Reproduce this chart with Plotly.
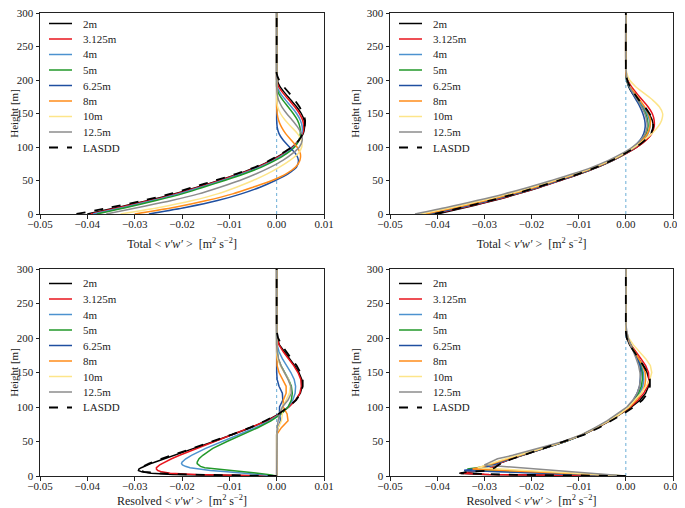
import plotly.graph_objects as go

LABELS = ["2m", "3.125m", "4m", "5m", "6.25m", "8m", "10m", "12.5m", "LASDD"]
COLORS = ["#000000", "#e8141c", "#4c92cf", "#22982a", "#1f4fa0", "#ff8c1a", "#fde58a", "#8c8c8c", "#000000"]

X_TICKS = [-0.05, -0.04, -0.03, -0.02, -0.01, 0.0, 0.01]
Y_TICKS = [0, 50, 100, 150, 200, 250, 300]

# ---------------- Total <v'w'> heights ----------------
H_TOTAL = [0, 10, 20, 30, 40, 50, 60, 70, 80, 90, 100, 110, 120, 130, 140, 150, 160, 170, 180, 190, 200, 210, 220, 300]

# Panel 1 (top-left): Total
tl_2m = [-0.0400, -0.0335, -0.0272, -0.0217, -0.0168, -0.0122, -0.0080, -0.0042, -0.0012, 0.0013, 0.0033, 0.0047, 0.0056, 0.0059, 0.0058, 0.0052, 0.0042, 0.0030, 0.0018, 0.0007, 0.0001, 0.0, 0.0, 0.0]
tl_3125 = [-0.0393, -0.0330, -0.0268, -0.0213, -0.0165, -0.0120, -0.0078, -0.0040, -0.0010, 0.0015, 0.0034, 0.0047, 0.0055, 0.0057, 0.0055, 0.0048, 0.0038, 0.0026, 0.0014, 0.0004, 0.0, 0.0, 0.0, 0.0]
tl_4 = [-0.0388, -0.0322, -0.0262, -0.0207, -0.0160, -0.0115, -0.0073, -0.0036, -0.0006, 0.0018, 0.0036, 0.0047, 0.0053, 0.0054, 0.0050, 0.0042, 0.0031, 0.0019, 0.0008, 0.0001, 0.0, 0.0, 0.0, 0.0]
tl_5 = [-0.0380, -0.0315, -0.0255, -0.0200, -0.0155, -0.0110, -0.0068, -0.0032, -0.0003, 0.0021, 0.0038, 0.0047, 0.0050, 0.0049, 0.0044, 0.0035, 0.0024, 0.0013, 0.0004, 0.0, 0.0, 0.0, 0.0, 0.0]
tl_625 = [-0.0270, -0.0190, -0.0125, -0.0075, -0.0035, -0.0003, 0.0024, 0.0042, 0.0046, 0.0040, 0.0027, 0.0014, 0.0005, 0.0001, 0.0, 0.0, 0.0, 0.0, 0.0, 0.0, 0.0, 0.0, 0.0, 0.0]
tl_8 = [-0.0300, -0.0215, -0.0148, -0.0093, -0.0050, -0.0010, 0.0020, 0.0040, 0.0049, 0.0050, 0.0043, 0.0031, 0.0019, 0.0010, 0.0004, 0.0001, 0.0, 0.0, 0.0, 0.0, 0.0, 0.0, 0.0, 0.0]
tl_10 = [-0.0330, -0.0245, -0.0178, -0.0125, -0.0085, -0.0050, -0.0020, 0.0006, 0.0028, 0.0045, 0.0053, 0.0052, 0.0044, 0.0031, 0.0018, 0.0008, 0.0002, 0.0, 0.0, 0.0, 0.0, 0.0, 0.0, 0.0]
tl_125 = [-0.0360, -0.0290, -0.0222, -0.0165, -0.0120, -0.0078, -0.0043, -0.0013, 0.0013, 0.0033, 0.0048, 0.0054, 0.0052, 0.0044, 0.0033, 0.0021, 0.0011, 0.0004, 0.0001, 0.0, 0.0, 0.0, 0.0, 0.0]
tl_lasdd = [-0.0423, -0.0350, -0.0282, -0.0225, -0.0177, -0.0130, -0.0085, -0.0045, -0.0015, 0.0010, 0.0032, 0.0047, 0.0055, 0.0059, 0.0060, 0.0056, 0.0048, 0.0038, 0.0027, 0.0015, 0.0005, 0.0, 0.0, 0.0]

# Panel 2 (top-right): Total
tr_2m = [-0.0400, -0.0338, -0.0280, -0.0229, -0.0182, -0.0139, -0.0097, -0.0059, -0.0027, 0.0000, 0.0024, 0.0042, 0.0054, 0.0058, 0.0056, 0.0048, 0.0037, 0.0025, 0.0014, 0.0006, 0.0002, 0.0, 0.0, 0.0]
tr_3125 = [-0.0410, -0.0343, -0.0283, -0.0231, -0.0184, -0.0140, -0.0098, -0.0060, -0.0028, 0.0000, 0.0024, 0.0043, 0.0055, 0.0060, 0.0060, 0.0056, 0.0047, 0.0035, 0.0023, 0.0012, 0.0004, 0.0001, 0.0, 0.0]
tr_4 = [-0.0418, -0.0350, -0.0290, -0.0236, -0.0188, -0.0143, -0.0100, -0.0062, -0.0029, -0.0002, 0.0020, 0.0037, 0.0047, 0.0051, 0.0050, 0.0045, 0.0037, 0.0027, 0.0017, 0.0008, 0.0003, 0.0001, 0.0, 0.0]
tr_5 = [-0.0420, -0.0352, -0.0292, -0.0238, -0.0190, -0.0145, -0.0101, -0.0062, -0.0030, -0.0003, 0.0018, 0.0034, 0.0043, 0.0047, 0.0046, 0.0042, 0.0034, 0.0025, 0.0015, 0.0007, 0.0002, 0.0, 0.0, 0.0]
tr_625 = [-0.0415, -0.0348, -0.0288, -0.0235, -0.0187, -0.0143, -0.0100, -0.0062, -0.0030, -0.0004, 0.0016, 0.0030, 0.0038, 0.0041, 0.0040, 0.0036, 0.0030, 0.0022, 0.0014, 0.0007, 0.0002, 0.0, 0.0, 0.0]
tr_8 = [-0.0425, -0.0357, -0.0296, -0.0241, -0.0192, -0.0147, -0.0103, -0.0064, -0.0031, -0.0004, 0.0018, 0.0035, 0.0046, 0.0051, 0.0052, 0.0048, 0.0040, 0.0030, 0.0019, 0.0009, 0.0003, 0.0, 0.0, 0.0]
tr_10 = [-0.0435, -0.0367, -0.0305, -0.0249, -0.0199, -0.0152, -0.0107, -0.0067, -0.0033, -0.0005, 0.0018, 0.0038, 0.0055, 0.0068, 0.0076, 0.0078, 0.0071, 0.0057, 0.0039, 0.0021, 0.0008, 0.0002, 0.0, 0.0]
tr_125 = [-0.0447, -0.0378, -0.0316, -0.0258, -0.0206, -0.0158, -0.0112, -0.0071, -0.0037, -0.0009, 0.0014, 0.0031, 0.0041, 0.0045, 0.0044, 0.0040, 0.0033, 0.0025, 0.0016, 0.0008, 0.0003, 0.0001, 0.0, 0.0]
tr_lasdd = [-0.0405, -0.0345, -0.0288, -0.0235, -0.0188, -0.0143, -0.0100, -0.0062, -0.0030, -0.0003, 0.0022, 0.0040, 0.0053, 0.0058, 0.0057, 0.0050, 0.0040, 0.0028, 0.0018, 0.0009, 0.0003, 0.0, 0.0, 0.0]

# ---------------- Resolved <v'w'> heights ----------------
H_RES = [0, 2, 4, 6, 8, 10, 12, 14, 16, 18, 20, 25, 30, 40, 50, 60, 70, 80, 90, 100, 110, 120, 130, 140, 150, 160, 170, 180, 190, 200, 210, 220, 300]

# Panel 3 (bottom-left): Resolved
bl_2m = [0.0, -0.0220, -0.0265, -0.0285, -0.0292, -0.0291, -0.0286, -0.0280, -0.0273, -0.0266, -0.0258, -0.0238, -0.0217, -0.0175, -0.0133, -0.0093, -0.0055, -0.0022, 0.0005, 0.0025, 0.0040, 0.0050, 0.0054, 0.0053, 0.0047, 0.0038, 0.0027, 0.0016, 0.0006, 0.0001, 0.0, 0.0, 0.0]
bl_3125 = [0.0, -0.0170, -0.0225, -0.0243, -0.0251, -0.0254, -0.0254, -0.0251, -0.0247, -0.0242, -0.0237, -0.0222, -0.0205, -0.0168, -0.0128, -0.0090, -0.0053, -0.0020, 0.0007, 0.0026, 0.0040, 0.0049, 0.0052, 0.0051, 0.0045, 0.0036, 0.0025, 0.0014, 0.0005, 0.0001, 0.0, 0.0, 0.0]
bl_4 = [0.0, -0.0030, -0.0070, -0.0105, -0.0140, -0.0165, -0.0183, -0.0193, -0.0199, -0.0201, -0.0200, -0.0192, -0.0180, -0.0150, -0.0115, -0.0080, -0.0045, -0.0015, 0.0008, 0.0024, 0.0034, 0.0039, 0.0040, 0.0037, 0.0030, 0.0021, 0.0012, 0.0005, 0.0001, 0.0, 0.0, 0.0, 0.0]
bl_5 = [0.0, -0.0015, -0.0040, -0.0070, -0.0105, -0.0135, -0.0152, -0.0161, -0.0166, -0.0168, -0.0168, -0.0164, -0.0156, -0.0135, -0.0105, -0.0073, -0.0040, -0.0012, 0.0010, 0.0024, 0.0031, 0.0033, 0.0031, 0.0025, 0.0017, 0.0009, 0.0003, 0.0001, 0.0, 0.0, 0.0, 0.0, 0.0]
bl_625 = [0.0, 0.0, 0.0, 0.0, 0.0, 0.0, 0.0, 0.0, 0.0, 0.0, 0.0, 0.0, 0.0, 0.0, 0.0, 0.0, 0.0003, 0.0008, 0.0006, 0.0006, 0.0013, 0.0012, 0.0005, 0.0001, 0.0, 0.0, 0.0, 0.0, 0.0, 0.0, 0.0, 0.0, 0.0]
bl_8 = [0.0, 0.0, 0.0, 0.0, 0.0, 0.0, 0.0, 0.0, 0.0, 0.0, 0.0, 0.0, 0.0, 0.0, 0.0, 0.0, 0.0010, 0.0024, 0.0022, 0.0014, 0.0014, 0.0020, 0.0020, 0.0013, 0.0005, 0.0001, 0.0, 0.0, 0.0, 0.0, 0.0, 0.0, 0.0]
bl_10 = [0.0, 0.0, 0.0, 0.0, 0.0, 0.0, 0.0, 0.0, 0.0, 0.0, 0.0, 0.0, 0.0, 0.0, 0.0, 0.0, 0.0003, 0.0010, 0.0012, 0.0012, 0.0020, 0.0027, 0.0029, 0.0025, 0.0016, 0.0008, 0.0002, 0.0, 0.0, 0.0, 0.0, 0.0, 0.0]
bl_125 = [0.0, 0.0, 0.0, 0.0, 0.0, 0.0, 0.0, 0.0, 0.0, 0.0, 0.0, 0.0, 0.0, 0.0, 0.0, 0.0, 0.0001, 0.0003, 0.0006, 0.0012, 0.0024, 0.0031, 0.0030, 0.0024, 0.0016, 0.0009, 0.0004, 0.0001, 0.0, 0.0, 0.0, 0.0, 0.0]
bl_lasdd = [0.0, -0.0180, -0.0250, -0.0280, -0.0288, -0.0290, -0.0288, -0.0283, -0.0277, -0.0270, -0.0263, -0.0243, -0.0222, -0.0178, -0.0135, -0.0095, -0.0057, -0.0024, 0.0004, 0.0025, 0.0041, 0.0051, 0.0055, 0.0055, 0.0050, 0.0042, 0.0031, 0.0020, 0.0010, 0.0003, 0.0, 0.0, 0.0]

# Panel 4 (bottom-right): Resolved
br_2m = [0.0, -0.0300, -0.0353, -0.0325, -0.0300, -0.0290, -0.0284, -0.0278, -0.0272, -0.0267, -0.0262, -0.0242, -0.0219, -0.0175, -0.0128, -0.0090, -0.0060, -0.0034, -0.0010, 0.0012, 0.0030, 0.0042, 0.0048, 0.0049, 0.0045, 0.0037, 0.0027, 0.0017, 0.0008, 0.0002, 0.0, 0.0, 0.0]
br_3125 = [0.0, -0.0290, -0.0350, -0.0330, -0.0305, -0.0293, -0.0286, -0.0280, -0.0274, -0.0268, -0.0263, -0.0243, -0.0220, -0.0176, -0.0129, -0.0091, -0.0061, -0.0035, -0.0011, 0.0010, 0.0026, 0.0038, 0.0046, 0.0049, 0.0048, 0.0042, 0.0032, 0.0021, 0.0011, 0.0004, 0.0001, 0.0, 0.0]
br_4 = [0.0, -0.0090, -0.0175, -0.0260, -0.0343, -0.0320, -0.0300, -0.0288, -0.0280, -0.0273, -0.0267, -0.0245, -0.0221, -0.0176, -0.0128, -0.0090, -0.0061, -0.0035, -0.0012, 0.0007, 0.0020, 0.0030, 0.0036, 0.0038, 0.0037, 0.0033, 0.0026, 0.0018, 0.0010, 0.0004, 0.0001, 0.0, 0.0]
br_5 = [0.0, -0.0070, -0.0135, -0.0200, -0.0270, -0.0336, -0.0315, -0.0298, -0.0287, -0.0278, -0.0270, -0.0247, -0.0222, -0.0177, -0.0129, -0.0091, -0.0062, -0.0036, -0.0013, 0.0005, 0.0018, 0.0027, 0.0033, 0.0035, 0.0035, 0.0031, 0.0025, 0.0018, 0.0010, 0.0004, 0.0001, 0.0, 0.0]
br_625 = [0.0, -0.0090, -0.0175, -0.0260, -0.0343, -0.0322, -0.0302, -0.0290, -0.0281, -0.0274, -0.0268, -0.0246, -0.0222, -0.0177, -0.0129, -0.0091, -0.0062, -0.0036, -0.0013, 0.0005, 0.0016, 0.0024, 0.0029, 0.0031, 0.0032, 0.0030, 0.0025, 0.0018, 0.0010, 0.0004, 0.0001, 0.0, 0.0]
br_8 = [0.0, -0.0065, -0.0130, -0.0195, -0.0260, -0.0325, -0.0312, -0.0300, -0.0290, -0.0281, -0.0273, -0.0250, -0.0225, -0.0178, -0.0130, -0.0092, -0.0062, -0.0036, -0.0012, 0.0008, 0.0022, 0.0033, 0.0040, 0.0042, 0.0041, 0.0036, 0.0028, 0.0019, 0.0010, 0.0004, 0.0001, 0.0, 0.0]
br_10 = [0.0, -0.0052, -0.0105, -0.0157, -0.0210, -0.0262, -0.0314, -0.0305, -0.0296, -0.0287, -0.0279, -0.0255, -0.0228, -0.0180, -0.0131, -0.0093, -0.0063, -0.0037, -0.0013, 0.0006, 0.0020, 0.0032, 0.0043, 0.0051, 0.0055, 0.0052, 0.0042, 0.0029, 0.0016, 0.0006, 0.0001, 0.0, 0.0]
br_125 = [0.0, -0.0038, -0.0075, -0.0112, -0.0150, -0.0188, -0.0225, -0.0262, -0.0300, -0.0294, -0.0288, -0.0272, -0.0240, -0.0185, -0.0133, -0.0094, -0.0065, -0.0040, -0.0018, 0.0002, 0.0015, 0.0024, 0.0029, 0.0031, 0.0030, 0.0027, 0.0022, 0.0016, 0.0010, 0.0005, 0.0002, 0.0, 0.0]
br_lasdd = [0.0, -0.0260, -0.0350, -0.0335, -0.0290, -0.0283, -0.0278, -0.0274, -0.0270, -0.0266, -0.0261, -0.0240, -0.0218, -0.0174, -0.0127, -0.0088, -0.0057, -0.0030, -0.0006, 0.0017, 0.0035, 0.0046, 0.0051, 0.0051, 0.0046, 0.0037, 0.0027, 0.0017, 0.0008, 0.0002, 0.0, 0.0, 0.0]

PANELS = [
    (H_TOTAL, [tl_2m, tl_3125, tl_4, tl_5, tl_625, tl_8, tl_10, tl_125, tl_lasdd], "Total"),
    (H_TOTAL, [tr_2m, tr_3125, tr_4, tr_5, tr_625, tr_8, tr_10, tr_125, tr_lasdd], "Total"),
    (H_RES, [bl_2m, bl_3125, bl_4, bl_5, bl_625, bl_8, bl_10, bl_125, bl_lasdd], "Resolved"),
    (H_RES, [br_2m, br_3125, br_4, br_5, br_625, br_8, br_10, br_125, br_lasdd], "Resolved"),
]

# The page body has an 8px default margin, so the figure is sized/positioned to fit it.
OFF = 8
W, H = 685 - OFF, 508 - OFF
# pixel boxes of the four plot areas in page coordinates (left, right, top, bottom)
BOXES_PAGE = [(40, 324, 13, 214), (390, 673, 13, 214), (40, 324, 269, 476), (390, 673, 269, 476)]

FONT = "Liberation Serif"
TXT = "#222"
fig = go.Figure()
shapes = []
annotations = []


def clamp(v):
    return min(1.0, max(0.0, v))


for p, (heights, series, kind) in enumerate(PANELS):
    n = p + 1
    xa = "x" if n == 1 else f"x{n}"
    ya = "y" if n == 1 else f"y{n}"
    l, r, t, b = [v - OFF for v in BOXES_PAGE[p]]
    for i, (lab, col, vals) in enumerate(zip(LABELS, COLORS, series)):
        is_ref = lab == "LASDD"
        dash = "dash" if is_ref else "solid"
        width = 1.8 if is_ref else 1.5
        fig.add_trace(go.Scatter(
            x=vals, y=heights, mode="lines", name=lab,
            line=dict(color=col, width=width, dash=dash,
                      shape="spline" if p < 2 else "linear", smoothing=0.8),
            xaxis=xa, yaxis=ya, showlegend=False,
        ))
        # hand-drawn legend entry (matplotlib-like compact spacing)
        yc = t + (10.5 if p < 2 else 14.5) + 15.5 * i
        shapes.append(dict(type="line", xref="paper", yref="paper",
                           x0=(l + 9) / W, x1=(l + 32) / W,
                           y0=(H - yc) / H, y1=(H - yc) / H,
                           line=dict(color=col, width=width, dash=dash)))
        annotations.append(dict(xref="paper", yref="paper", x=(l + 41) / W, y=(H - yc) / H,
                                xanchor="left", yanchor="middle", showarrow=False,
                                text=lab, font=dict(family=FONT, size=11, color=TXT)))
    xdom = [clamp(l / W), clamp(r / W)]
    ydom = [clamp((H - b) / H), clamp((H - t) / H)]
    axis_common = dict(showline=True, mirror=True, linecolor="#222", linewidth=1,
                       ticks="outside", ticklen=3.5, tickwidth=1, tickcolor="#222",
                       showgrid=False, zeroline=False, automargin=False,
                       ticklabeloverflow="allow",
                       tickfont=dict(family=FONT, size=11, color=TXT))
    xkey = "xaxis" if n == 1 else f"xaxis{n}"
    ykey = "yaxis" if n == 1 else f"yaxis{n}"
    fig.update_layout(**{
        xkey: dict(domain=xdom, anchor=ya, range=[-0.05, 0.01], tickvals=X_TICKS,
                   tickformat=".2f", ticklabelstandoff=-4,
                   title=dict(text=f"{kind} &lt; <i>v′w′</i> &gt;  [m<sup>2</sup> s<sup>−2</sup>]",
                              font=dict(family=FONT, size=12, color=TXT), standoff=10),
                   **axis_common),
        ykey: dict(domain=ydom, anchor=xa, range=[0, 300], tickvals=Y_TICKS,
                   title=dict(text="Height [m]", font=dict(family=FONT, size=11, color=TXT), standoff=4),
                   **axis_common),
    })
    shapes.append(dict(type="line", xref=xa, yref=ya, x0=0, x1=0, y0=0, y1=300,
                       line=dict(color="#6baed6", width=1, dash="dot"), layer="below"))

fig.update_layout(width=W, height=H, margin=dict(l=0, r=0, t=0, b=0, autoexpand=False),
                  paper_bgcolor="white", plot_bgcolor="white", showlegend=False,
                  shapes=shapes, annotations=annotations,
                  font=dict(family=FONT, size=11, color=TXT))

fig.write_html("out.html")
